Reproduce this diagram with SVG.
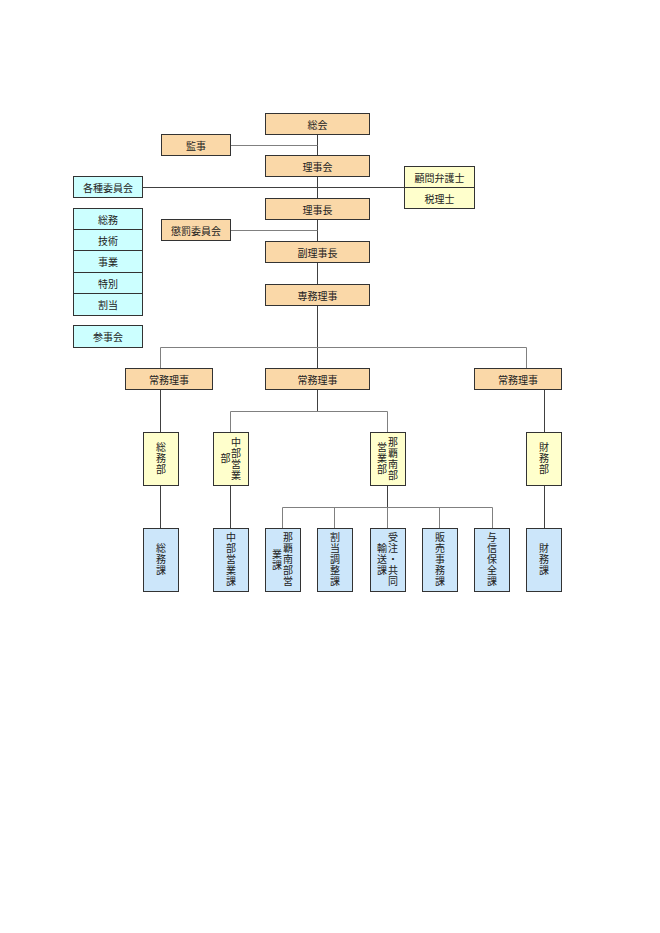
<svg xmlns="http://www.w3.org/2000/svg" width="660" height="933" viewBox="0 0 660 933">
<style>
rect{stroke:#333;stroke-width:1}
.o{fill:#FAD8A8}.c{fill:#CCFFFF}.y{fill:#FFFFCC}.b{fill:#CCE6FA}
text{font-family:"Noto Sans CJK JP","Noto Sans",sans-serif;font-size:10px;fill:#222;text-anchor:middle;dominant-baseline:central}
text.vt{writing-mode:vertical-rl;letter-spacing:1px}
.h{stroke:#808080;stroke-width:1;fill:none}.v{stroke:#404040;stroke-width:1;fill:none}
</style>
<rect width="660" height="933" fill="#fff" style="stroke:none"/>
<g id="connectors">
<path class="v" d="M317.5 134V368"/>
<path class="h" d="M231 145.5H317.5"/>
<path class="v" d="M143 187.5H404"/>
<path class="h" d="M231 230.5H317.5"/>
<path class="h" d="M160.5 368V347.5H526.5V368"/>
<path class="v" d="M160.5 390V432M544.5 390V432"/>
<path class="v" d="M317.5 390V411"/>
<path class="h" d="M230.5 432V411.5H387.5V432"/>
<path class="v" d="M160.5 486V528M230.5 486V528M544.5 486V528M387.5 486V507"/>
<path class="h" d="M282.5 528V507.5H492.5V528M334.5 507.5V528M439.5 507.5V528M387.5 507V528"/>
</g>
<g id="n-soukai"><rect class="o" x="265.5" y="113.5" width="104" height="21"/><text x="317.5" y="124">総会</text></g>
<g id="n-kanji"><rect class="o" x="161.5" y="134.5" width="69" height="21"/><text x="196" y="145">監事</text></g>
<g id="n-rijikai"><rect class="o" x="265.5" y="155.5" width="104" height="21"/><text x="317.5" y="166">理事会</text></g>
<g id="n-kakushu"><rect class="c" x="73.5" y="176.5" width="69" height="21"/><text x="108" y="187">各種委員会</text></g>
<g id="n-komon"><rect class="y" x="404.5" y="166.5" width="70" height="21"/><text x="439.5" y="177">顧問弁護士</text></g>
<g id="n-zeirishi"><rect class="y" x="404.5" y="187.5" width="70" height="21"/><text x="439.5" y="198">税理士</text></g>
<g id="n-rijicho"><rect class="o" x="265.5" y="198.5" width="104" height="21"/><text x="317.5" y="209">理事長</text></g>
<g id="n-choubatsu"><rect class="o" x="161.5" y="219.5" width="69" height="21"/><text x="196" y="230">懲罰委員会</text></g>
<g id="n-fukurijicho"><rect class="o" x="265.5" y="241.5" width="104" height="21"/><text x="317.5" y="252">副理事長</text></g>
<g id="n-senmu"><rect class="o" x="265.5" y="284.5" width="104" height="21"/><text x="317.5" y="295">専務理事</text></g>
<g id="n-somu-i"><rect class="c" x="73.5" y="208.5" width="69" height="21"/><text x="108" y="219">総務</text></g>
<g id="n-gijutsu"><rect class="c" x="73.5" y="229.5" width="69" height="21"/><text x="108" y="240">技術</text></g>
<g id="n-jigyo"><rect class="c" x="73.5" y="250.5" width="69" height="22"/><text x="108" y="261.5">事業</text></g>
<g id="n-tokubetsu"><rect class="c" x="73.5" y="272.5" width="69" height="21"/><text x="108" y="283">特別</text></g>
<g id="n-wariate"><rect class="c" x="73.5" y="293.5" width="69" height="22"/><text x="108" y="304.5">割当</text></g>
<g id="n-sanjikai"><rect class="c" x="73.5" y="325.5" width="69" height="22"/><text x="108" y="336.5">参事会</text></g>
<g id="n-jomu1"><rect class="o" x="125.5" y="368.5" width="87" height="21"/><text x="169" y="379">常務理事</text></g>
<g id="n-jomu2"><rect class="o" x="265.5" y="368.5" width="104" height="21"/><text x="317.5" y="379">常務理事</text></g>
<g id="n-jomu3"><rect class="o" x="474.5" y="368.5" width="87" height="21"/><text x="518" y="379">常務理事</text></g>
<g id="n-somubu"><rect class="y" x="143.5" y="432.5" width="35" height="53"/><text class="vt" x="161" y="459">総務部</text></g>
<g id="n-chubu"><rect class="y" x="213.5" y="432.5" width="35" height="53"/><text class="vt" x="236" y="459">中部営業</text><text class="vt" x="225.5" y="459">部</text></g>
<g id="n-nahabu"><rect class="y" x="370.5" y="432.5" width="35" height="53"/><text class="vt" x="393" y="459">那覇南部</text><text class="vt" x="382" y="459">営業部</text></g>
<g id="n-zaimubu"><rect class="y" x="526.5" y="432.5" width="35" height="53"/><text class="vt" x="544" y="459">財務部</text></g>
<g id="n-somuka"><rect class="b" x="143.5" y="528.5" width="35" height="63"/><text class="vt" x="161" y="560">総務課</text></g>
<g id="n-chubuka"><rect class="b" x="213.5" y="528.5" width="35" height="63"/><text class="vt" x="231" y="560">中部営業課</text></g>
<g id="n-nahaka"><rect class="b" x="265.5" y="528.5" width="35" height="63"/><text class="vt" x="288" y="560">那覇南部営</text><text class="vt" x="277" y="560">業課</text></g>
<g id="n-chouseika"><rect class="b" x="317.5" y="528.5" width="35" height="63"/><text class="vt" x="335" y="560">割当調整課</text></g>
<g id="n-yusoka"><rect class="b" x="370.5" y="528.5" width="35" height="63"/><text class="vt" x="393" y="560">受注・共同</text><text class="vt" x="382" y="560">輸送課</text></g>
<g id="n-hanbaika"><rect class="b" x="422.5" y="528.5" width="35" height="63"/><text class="vt" x="440" y="560">販売事務課</text></g>
<g id="n-yoshinka"><rect class="b" x="474.5" y="528.5" width="35" height="63"/><text class="vt" x="492" y="560">与信保全課</text></g>
<g id="n-zaimuka"><rect class="b" x="526.5" y="528.5" width="35" height="63"/><text class="vt" x="544" y="560">財務課</text></g>
</svg>
